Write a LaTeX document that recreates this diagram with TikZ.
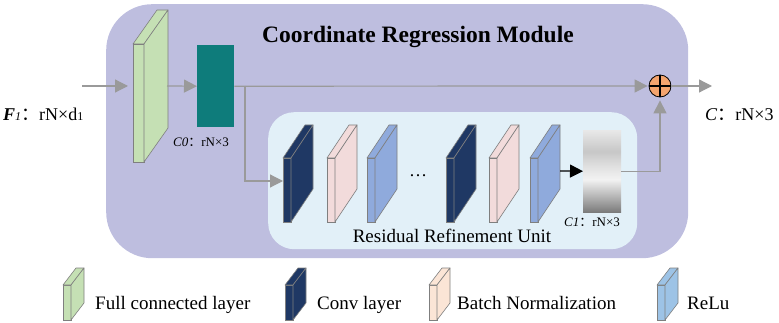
\documentclass[tikz,border=0pt]{standalone}
\usepackage{fontspec}
\setmainfont{Liberation Serif}
\newfontfamily\cjk{Noto Sans CJK SC}
\usetikzlibrary{arrows.meta,calc}

\definecolor{modfill}{HTML}{BEBEDF}
\definecolor{unitfill}{HTML}{E2F0F8}
\definecolor{fcgreen}{HTML}{C5E0B4}
\definecolor{cteal}{HTML}{0E7C7B}
\definecolor{convnavy}{HTML}{1F3864}
\definecolor{bnpink}{HTML}{F2DBDB}
\definecolor{relublue}{HTML}{8FAADC}
\definecolor{keybn}{HTML}{FBE5D6}
\definecolor{keyrelu}{HTML}{9DC3E6}
\definecolor{sumorange}{HTML}{F4A46E}
\definecolor{flowgray}{HTML}{9A9A9A}
\definecolor{edgegray}{HTML}{7F7F7F}

% vertical grey ramp of the refined coordinates block
\pgfdeclareverticalshading{refineshade}{100bp}{%
  color(0bp)=(black!52); color(25bp)=(black!52); color(35bp)=(black!28);
  color(45bp)=(black!5); color(53bp)=(black!12); color(62bp)=(black!22);
  color(75bp)=(black!9); color(100bp)=(black!9)}

\newcommand{\colonfw}{{\cjk ：}}

\tikzset{
  slabface/.style={draw=edgegray, line width=0.6pt, inner sep=0pt, outer sep=0pt},
  slabedge/.style={draw=edgegray, line width=0.6pt, line join=round},
  garrow/.style={draw=flowgray, line width=1.2pt,
    -{Triangle[length=13pt,width=13pt]}},
  kline/.style={draw=black, line width=1.2pt,
    -{Triangle[length=13pt,width=13pt]}},
  keytext/.style={font=\fontsize{19}{22}\selectfont, anchor=base west, inner sep=0pt},
  dimtext/.style={font=\fontsize{18}{20}\selectfont, anchor=base west, inner sep=0pt},
  smalltext/.style={font=\fontsize{13}{15}\selectfont, anchor=base west, inner sep=0pt},
}

% a thin 3-D layer: name, x, y (top-left of front face), width, height, dx, dy, colour
\newcommand{\slabat}[8]{%
  \node[slabface, fill=#8, minimum width=#4pt, minimum height=#5pt,
        anchor=north west] (#1) at (#2,#3) {};
  \filldraw[slabedge, fill=#8] (#1.north west) -- ++(#6,#7) -- ++(#4,0)
     -- (#1.north east) -- cycle;
  \filldraw[slabedge, fill=#8] (#1.north east) -- ++(#6,#7) -- ++(0,#5)
     -- (#1.south east) -- cycle;
}

\begin{document}
\begin{tikzpicture}[x=1pt,y=-1pt]
\useasboundingbox (0,0) rectangle (779,323);

% containers
\node[fill=modfill, rounded corners=46pt, minimum width=582pt, minimum height=254pt,
      inner sep=0pt, anchor=north west] (crm) at (106,4) {};
\node[fill=unitfill, rounded corners=26pt, minimum width=369pt, minimum height=137pt,
      inner sep=0pt, anchor=north west] (rru) at (268,112) {};

\node[font=\bfseries\fontsize{23.5}{26}\selectfont, anchor=base, inner sep=0pt]
  (title) at (418,43) {Coordinate Regression Module};
\node[font=\fontsize{19}{22}\selectfont, anchor=base, inner sep=0pt]
  (rrutitle) at (452,243) {Residual Refinement Unit};

% fully connected layer and its output
\slabat{fc}{133}{44}{11}{118}{24}{-34}{fcgreen}
\node[fill=cteal, minimum width=37pt, minimum height=82pt, inner sep=0pt,
      anchor=north west] (c0) at (197,45) {};

% refinement layers
\slabat{conva}{283}{158}{8}{64}{22}{-33}{convnavy}
\slabat{bna}{327}{158}{8}{64}{22}{-33}{bnpink}
\slabat{relua}{367}{158}{8}{64}{22}{-33}{relublue}
\node[font=\fontsize{18}{20}\selectfont, inner sep=0pt] (dots) at (418,176) {\dots};
\slabat{convb}{446}{158}{8}{64}{22}{-33}{convnavy}
\slabat{bnb}{489}{158}{8}{64}{22}{-33}{bnpink}
\slabat{relub}{530}{158}{8}{64}{22}{-33}{relublue}
\node[shading=refineshade, minimum width=38pt, minimum height=82pt, inner sep=0pt,
      anchor=north west] (c1) at (583,130) {};

% adder
\node[circle, draw=black, fill=sumorange, line width=0.8pt, minimum size=22pt,
      inner sep=0pt] (sum) at (660,86) {};
\draw[line width=1.2pt] (sum.north) -- (sum.south) (sum.west) -- (sum.east);

% connectors
\coordinate (in) at (82,86);
\coordinate (out) at (712,86);
\coordinate (br) at (245,86);
\draw[garrow, shorten >=5pt] (in) -- (in -| fc.west);
\draw[garrow] ([xshift=23pt]fc.east |- in) -- (c0.west);
\draw[garrow, shorten >=1pt] (c0.east) -- (sum.west);
\draw[garrow] (br) |- ([yshift=9pt]conva.west);
\draw[kline] ([xshift=22pt,yshift=19pt]relub.east) -- (c1.west);
\draw[garrow, shorten >=3pt] (c1.east) -| (sum.south);
\draw[garrow] (sum.east) -- (out);

% tensor labels
\node[dimtext] (f1lab) at (3,121)
  {\textbf{\textit{F}}{\fontsize{12}{12}\selectfont\textit{1}}\colonfw rN×d{\fontsize{12}{12}\selectfont 1}};
\node[dimtext] (clab) at (705,121) {\textit{C}\colonfw rN×3};
\node[smalltext] (c0lab) at (173,147) {\textit{C0}\colonfw rN×3};
\node[smalltext] (c1lab) at (564,227) {\textit{C1}\colonfw rN×3};

% legend
\slabat{keyfc}{63}{285}{8}{35}{13}{-17}{fcgreen}
\node[keytext] (keyfct) at (95,309) {Full connected layer};
\slabat{keyconv}{285}{285}{8}{35}{13}{-17}{convnavy}
\node[keytext] (keyconvt) at (317,309) {Conv layer};
\slabat{keybnl}{429}{285}{8}{35}{13}{-17}{keybn}
\node[keytext] (keybnt) at (457,309) {Batch Normalization};
\slabat{keyrelul}{657}{285}{8}{35}{13}{-17}{keyrelu}
\node[keytext] (keyrelut) at (687,309) {ReLu};
\end{tikzpicture}
\end{document}
